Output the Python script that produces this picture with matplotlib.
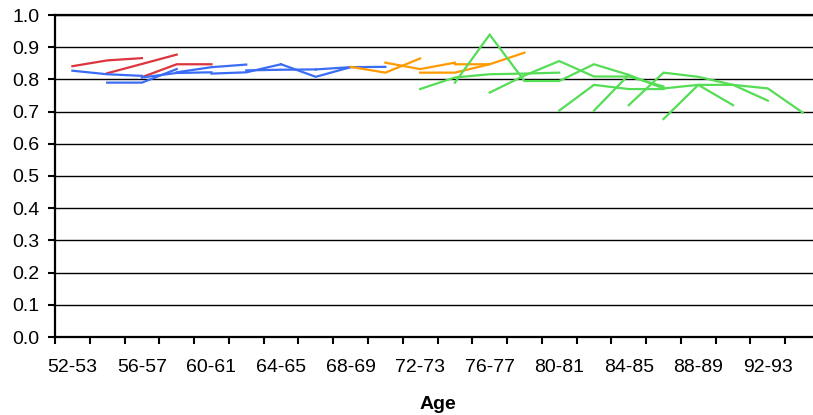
import matplotlib
matplotlib.use("Agg")
import matplotlib.pyplot as plt
from matplotlib.ticker import FixedLocator, NullFormatter

plt.rcParams['font.family'] = ['Liberation Sans', 'DejaVu Sans']

# age groups (two-year bands), one category per band
age_groups = ["%d-%d" % (a, a + 1) for a in range(52, 96, 2)]

# each cohort line: (index of first age group, values)
red_lines = [
    (0, [0.841, 0.859, 0.866]),
    (1, [0.819, 0.848, 0.877]),
    (2, [0.807, 0.847, 0.847]),
]
blue_lines = [
    (0, [0.827, 0.816, 0.811]),
    (1, [0.790, 0.790, 0.832]),
    (2, [0.806, 0.820, 0.822]),
    (3, [0.822, 0.838, 0.846]),
    (4, [0.818, 0.822, 0.847]),
    (5, [0.828, 0.830, 0.831]),
    (6, [0.847, 0.808, 0.838]),
    (7, [0.831, 0.838, 0.839]),
]
orange_lines = [
    (8, [0.839, 0.821, 0.865]),
    (9, [0.852, 0.832, 0.852]),
    (10, [0.821, 0.821, 0.847]),
    (11, [0.847, 0.847, 0.883]),
]
green_lines = [
    (10, [0.770, 0.806, 0.816, 0.818, 0.821]),
    (11, [0.790, 0.939, 0.795, 0.795, 0.847, 0.814]),
    (12, [0.759, 0.812, 0.857, 0.809, 0.809, 0.778]),
    (14, [0.703, 0.783, 0.770, 0.770]),
    (15, [0.703, 0.814, 0.772]),
    (16, [0.720, 0.821, 0.808, 0.783, 0.734]),
    (17, [0.677, 0.783, 0.720]),
    (17, [0.772, 0.783, 0.783, 0.772, 0.697]),
]

groups = [
    (red_lines, "#dc3540"),
    (blue_lines, "#3b6cf5"),
    (orange_lines, "#ff9a00"),
    (green_lines, "#55dd55"),
]

fig = plt.figure(figsize=(8.13, 4.15), dpi=100)
ax = fig.add_axes([55 / 813, 78 / 415, 765 / 813, 322 / 415])

for lines, col in groups:
    for start, vals in lines:
        ax.plot(range(start, start + len(vals)), vals, color=col, lw=1.6,
                solid_joinstyle="miter", zorder=3)

n = len(age_groups)
ax.set_xlim(-0.5, n - 0.5)
ax.set_ylim(0, 1.0)
ax.set_yticks([i / 10 for i in range(11)])
ax.set_yticklabels(["%.1f" % (i / 10) for i in range(11)])
ax.yaxis.grid(True, color="black", lw=1.0)
ax.set_axisbelow(True)

# labels every second group, ticks at group boundaries
ax.xaxis.set_major_locator(FixedLocator(list(range(0, n, 2))))
ax.set_xticklabels(age_groups[::2])
ax.xaxis.set_minor_locator(FixedLocator([i - 0.5 for i in range(n + 1)]))
ax.xaxis.set_minor_formatter(NullFormatter())
ax.tick_params(axis="x", which="major", length=0, pad=16, labelsize=14)
ax.tick_params(axis="x", which="minor", length=5, width=1.5, direction="out")
ax.tick_params(axis="y", length=5, width=1.5, pad=6, labelsize=14)

for side in ("left", "bottom", "top"):
    ax.spines[side].set_linewidth(1.6)
ax.spines["right"].set_visible(False)

ax.set_xlabel("Age", fontsize=14, fontweight="bold", labelpad=14)

fig.savefig("out.png", dpi=100)
